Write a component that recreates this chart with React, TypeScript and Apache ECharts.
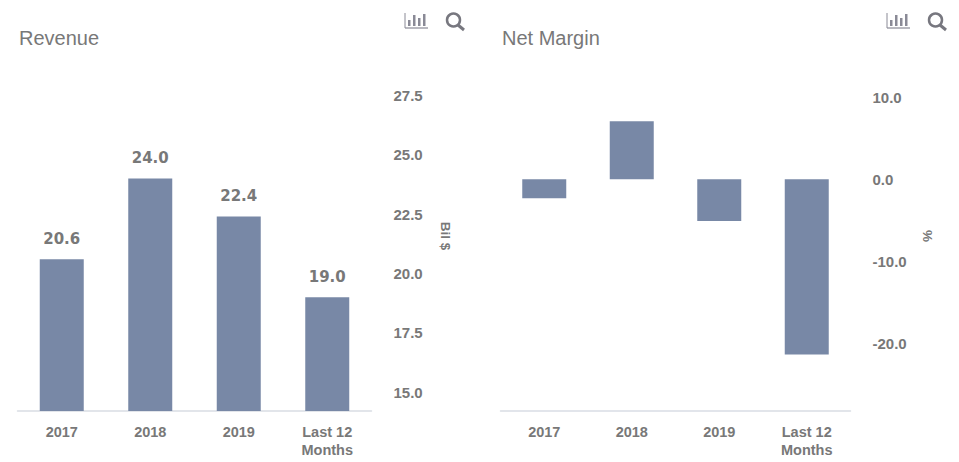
import React, { useEffect, useRef } from "react";
import * as echarts from "echarts";

const categories = ["2017", "2018", "2019", "Last 12\nMonths"];
const revenueValues = [20.6, 24.0, 22.4, 19.0];
const marginValues = [-2.3, 7.1, -5.1, -21.4];
const revenueTicks = [15, 17.5, 20, 22.5, 25, 27.5];
const marginTicks = [-20, -10, 0, 10];
const FONT = "Liberation Sans, Arial, sans-serif";
const GREY = "#787878";
const BAR = "#7888a6";

const xAxisFor = (gridIndex: number) => ({
  type: "category" as const,
  gridIndex,
  data: categories,
  axisTick: { show: false },
  axisLine: { onZero: false, lineStyle: { color: "#d9dde4", width: 1.5 } },
  axisLabel: { color: GREY, fontFamily: FONT, fontWeight: "bold" as const, fontSize: 14.5, margin: 12, lineHeight: 18, interval: 0 },
});

const yAxisFor = (gridIndex: number, min: number, max: number, ticks: number[]) => ({
  type: "value" as const,
  gridIndex,
  position: "right" as const,
  min,
  max,
  splitLine: { show: false },
  axisLine: { show: false },
  axisTick: { show: false },
  axisLabel: {
    customValues: ticks,
    color: GREY,
    fontFamily: FONT,
    fontWeight: "bold" as const,
    fontSize: 15,
    margin: 22,
    formatter: (v: number) => v.toFixed(1),
  },
});

const icons = (x: number) => ({
  type: "group" as const,
  x,
  y: 0,
  silent: true,
  children: [
    { type: "line", shape: { x1: 0, y1: 13, x2: 0, y2: 28 }, style: { stroke: "#8a8a96", lineWidth: 1 } },
    { type: "line", shape: { x1: 0, y1: 28, x2: 23, y2: 28 }, style: { stroke: "#8a8a96", lineWidth: 1.2 } },
    { type: "rect", shape: { x: 3, y: 20, width: 2.5, height: 6 }, style: { fill: "#8a8a96" } },
    { type: "rect", shape: { x: 8, y: 15, width: 2.5, height: 11 }, style: { fill: "#8a8a96" } },
    { type: "rect", shape: { x: 13, y: 18, width: 2.5, height: 8 }, style: { fill: "#8a8a96" } },
    { type: "rect", shape: { x: 18, y: 14, width: 2.5, height: 12 }, style: { fill: "#8a8a96" } },
    { type: "circle", shape: { cx: 48.5, cy: 20, r: 6.5 }, style: { fill: "none", stroke: "#77777f", lineWidth: 2.5 } },
    { type: "line", shape: { x1: 53, y1: 25, x2: 59, y2: 30 }, style: { stroke: "#77777f", lineWidth: 3 } },
  ],
});

const sideText = (text: string, x: number) => ({
  type: "text" as const,
  x,
  y: 236,
  rotation: -Math.PI / 2,
  style: { text, fill: GREY, font: `bold 13.5px ${FONT}`, align: "center", verticalAlign: "middle" },
});

export default function App() {
  const ref = useRef<HTMLDivElement>(null);
  useEffect(() => {
    const chart = echarts.init(ref.current!, undefined, { renderer: "svg" });
    chart.setOption({
      animation: false,
      backgroundColor: "#fff",
      title: [
        { text: "Revenue", left: 19, top: 28, padding: 0, textStyle: { color: GREY, fontFamily: FONT, fontSize: 20, fontWeight: "normal" } },
        { text: "Net Margin", left: 502, top: 28, padding: 0, textStyle: { color: GREY, fontFamily: FONT, fontSize: 20, fontWeight: "normal" } },
      ],
      grid: [
        { left: 17.5, width: 354, top: 95.5, height: 315.5 },
        { left: 500.5, width: 350, top: 97.5, height: 313.5 },
      ],
      xAxis: [xAxisFor(0), xAxisFor(1)],
      yAxis: [yAxisFor(0, 14.2, 27.5, revenueTicks), yAxisFor(1, -28.3, 10, marginTicks)],
      series: [
        {
          type: "bar",
          xAxisIndex: 0,
          yAxisIndex: 0,
          data: revenueValues,
          barWidth: 44,
          itemStyle: { color: BAR },
          label: {
            show: true,
            position: "top",
            distance: 13,
            color: GREY,
            fontFamily: "DejaVu Sans",
            fontWeight: "bold",
            fontSize: 15,
            formatter: (p: any) => Number(p.value).toFixed(1),
          },
        },
        { type: "bar", xAxisIndex: 1, yAxisIndex: 1, data: marginValues, barWidth: 44, itemStyle: { color: BAR } },
      ],
      graphic: [icons(405), icons(887), sideText("Bil $", 445), sideText("%", 927)],
    });
    return () => chart.dispose();
  }, []);
  return <div ref={ref} style={{ position: "fixed", left: 0, top: 0, width: 959, height: 462 }} />;
}
